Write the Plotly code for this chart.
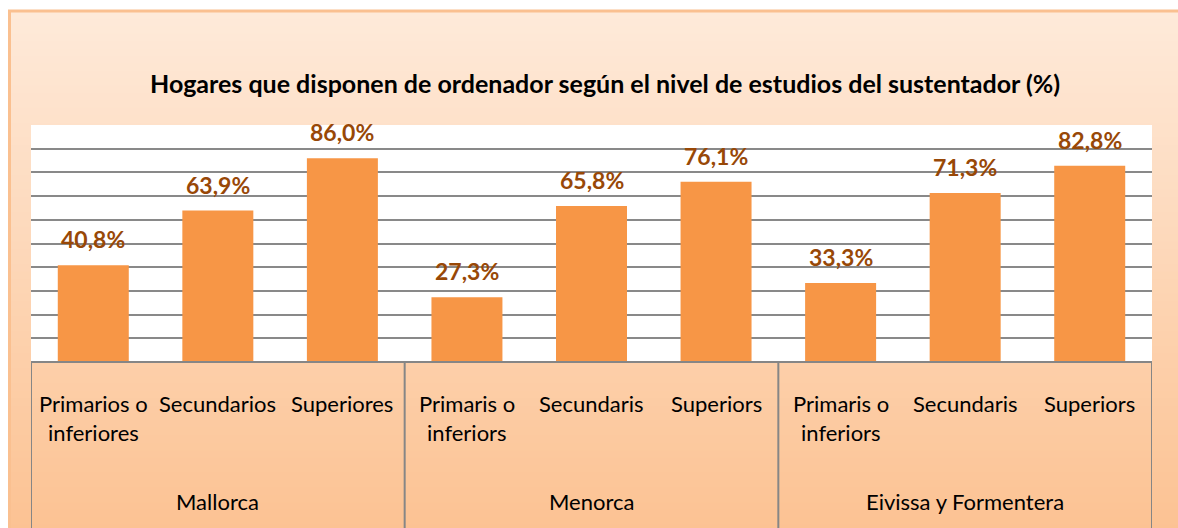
import plotly.graph_objects as go

# ---------------- data ----------------
groups = ["Mallorca", "Menorca", "Eivissa y Formentera"]
categories = [
    ["Primarios o<br>inferiores", "Secundarios", "Superiores"],
    ["Primaris o<br>inferiors", "Secundaris", "Superiors"],
    ["Primaris o<br>inferiors", "Secundaris", "Superiors"],
]
values = [
    [40.8, 63.9, 86.0],
    [27.3, 65.8, 76.1],
    [33.3, 71.3, 82.8],
]
title_text = "Hogares que disponen de ordenador según el nivel de estudios del sustentador (%)"

# ---------------- layout constants ----------------
W, H = 1178, 528
ML, MR, MT, MB = 31, 26, 125, 166
PW, PH = W - ML - MR, H - MT - MB
FONT = "Lato"

def pxx(px):
    return (px - ML) / PW

def pxy(py):
    return (H - MB - py) / PH

keys, flat_vals, flat_labels = [], [], []
for g, cats, vals in zip(groups, categories, values):
    for c, v in zip(cats, vals):
        keys.append(f"{g} | {c.replace('<br>', ' ')}")
        flat_vals.append(v)
        flat_labels.append(c)

fig = go.Figure(
    go.Bar(
        x=keys,
        y=flat_vals,
        marker=dict(color="#F79646", line=dict(width=0)),
        width=0.57,
        hoverinfo="skip",
    )
)

shapes = []
# background gradient (chart area)
top_c = (254, 234, 218)
bot_c = (252, 194, 146)
y_start, y_end = 11, H + 4
n = 70
for i in range(n):
    a = y_start + (y_end - y_start) * i / n
    b = y_start + (y_end - y_start) * (i + 1) / n + 0.8
    t = (i + 0.5) / n
    col = tuple(round(top_c[k] + (bot_c[k] - top_c[k]) * t) for k in range(3))
    shapes.append(dict(type="rect", xref="paper", yref="paper",
                       x0=pxx(9), x1=pxx(W + 10), y0=pxy(a), y1=pxy(b),
                       fillcolor="rgb(%d,%d,%d)" % col, line=dict(width=0), layer="below"))
# white plot area
shapes.append(dict(type="rect", xref="paper", yref="paper", x0=0, x1=1, y0=0, y1=1,
                   fillcolor="white", line=dict(width=0), layer="below"))
# outer chart border
shapes.append(dict(type="rect", xref="paper", yref="paper",
                   x0=pxx(9.5), x1=pxx(W + 20), y0=pxy(11), y1=pxy(H + 20),
                   fillcolor="rgba(0,0,0,0)", line=dict(color="#FAC090", width=3), layer="below"))
# category axis box: top line and group dividers
line_col = "#868686"
shapes.append(dict(type="line", xref="paper", yref="paper", x0=0, x1=1, y0=0, y1=0,
                   line=dict(color=line_col, width=2)))
n_per = len(categories[0])
for gi in range(len(groups) + 1):
    xv = gi * n_per - 0.5
    shapes.append(dict(type="line", xref="x", yref="paper", x0=xv, x1=xv,
                       y0=0, y1=pxy(H + 20), line=dict(color=line_col, width=2)))

annotations = []
# value labels
for k, v in zip(keys, flat_vals):
    annotations.append(dict(x=k, y=v, xref="x", yref="y", yanchor="middle",
                            yshift=26, showarrow=False,
                            text=f"{v:.1f}".replace(".", ",") + "%",
                            font=dict(family=FONT, size=23, color="#984807", weight="bold")))
# category labels
for k, lab in zip(keys, flat_labels):
    for li, line in enumerate(lab.split("<br>")):
        annotations.append(dict(x=k, y=pxy(403 + 29 * li), xref="x", yref="paper",
                                yanchor="middle", showarrow=False, text=line,
                                font=dict(family=FONT, size=22, color="black")))
# group labels
for gi, g in enumerate(groups):
    mid_key = keys[gi * n_per + n_per // 2]
    annotations.append(dict(x=mid_key, y=pxy(501), xref="x", yref="paper",
                            yanchor="middle", showarrow=False, text=g,
                            font=dict(family=FONT, size=22, color="black")))
# title
annotations.append(dict(x=pxx(605), y=pxy(83), xref="paper", yref="paper",
                        yanchor="middle", xanchor="center", showarrow=False,
                        text=title_text,
                        font=dict(family=FONT, size=25, color="black", weight="bold")))

fig.update_layout(
    width=W, height=H,
    margin=dict(l=ML, r=MR, t=MT, b=MB, pad=0),
    paper_bgcolor="white",
    plot_bgcolor="rgba(0,0,0,0)",
    showlegend=False,
    shapes=shapes,
    annotations=annotations,
    bargap=0.43,
    xaxis=dict(type="category", range=[-0.5, len(keys) - 0.5], showticklabels=False,
               showgrid=False, zeroline=False, showline=False, ticks="", fixedrange=True),
    yaxis=dict(range=[0, 100], dtick=10, tick0=0, showticklabels=False, ticks="",
               showgrid=True, gridcolor="#898989", gridwidth=2, zeroline=False,
               showline=False, fixedrange=True),
)

fig.write_html("out.html", config={"displayModeBar": False},
               post_script="document.body.style.margin='0';document.body.style.overflow='hidden';")
